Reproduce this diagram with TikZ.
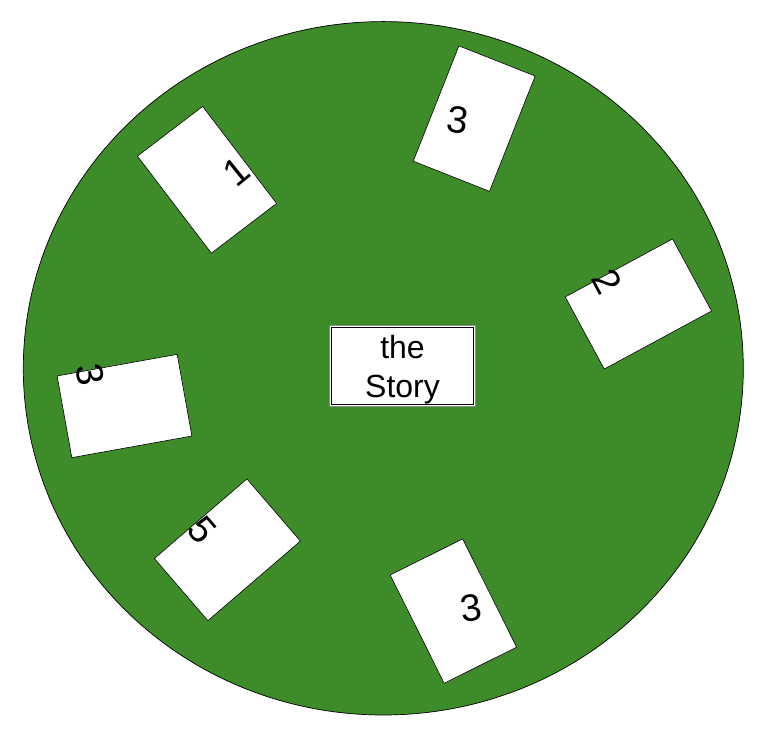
\documentclass[tikz,border=0pt]{standalone}
\usepackage{fontspec}
\setmainfont{Liberation Sans}
\usepackage{tikz}
\definecolor{tablegreen}{RGB}{62,139,41}

\begin{document}
\begin{tikzpicture}[x=1pt,y=1pt]
            \tikzstyle{every node}+=[inner sep=0pt]
            \tikzstyle{card}=[draw=black, fill=white, line width=0.6pt, minimum width=82pt, minimum height=122pt]
            \tikzstyle{num}=[font=\fontsize{38}{38}\selectfont]
            \useasboundingbox (0,0) rectangle (760,736);
            \draw [black, line width=0.7pt, fill=tablegreen] (383.3,367.7) ellipse (360 and 346.7);
            \node [card, rotate=37.3] (card1) at (207,556.2) {};
            \node [num, rotate=39] (n1) at (236.7,564.3) {1};
            \node [card, rotate=-21.6, minimum height=124pt] (card3a) at (474.2,617.4) {};
            \node [num, rotate=-8] (n3a) at (457.3,616) {3};
            \node [card, rotate=-61.6] (card2) at (638.4,432) {};
            \node [num, rotate=-61.6] (n2) at (606.7,454.3) {2};
            \node [card, rotate=-79.8, minimum width=83pt] (card3b) at (124.5,330) {};
            \node [num, rotate=-80] (n3b) at (90,361) {3};
            \node [card, rotate=-49.3] (card5) at (227.4,186.2) {};
            \node [num, rotate=-49] (n5) at (201.7,206) {5};
            \node [card, rotate=26.5, minimum width=81pt, minimum height=121pt] (card3c) at (453.4,124.9) {};
            \node [num, rotate=8] (n3c) at (470.7,127.7) {3};
            % centre box
            \draw [black!45, fill=white, line width=0.8pt] (329.5,329.8) rectangle (475.5,410.8);
            \node [draw=black, fill=white, line width=0.6pt, minimum width=142pt, minimum height=77pt] (story) at (402.5,370.3) {};
            \node [align=center, font=\fontsize{32}{39}\selectfont] (storytext) at (402.5,366.5) {the\\Story};
            \end{tikzpicture}
\end{document}
